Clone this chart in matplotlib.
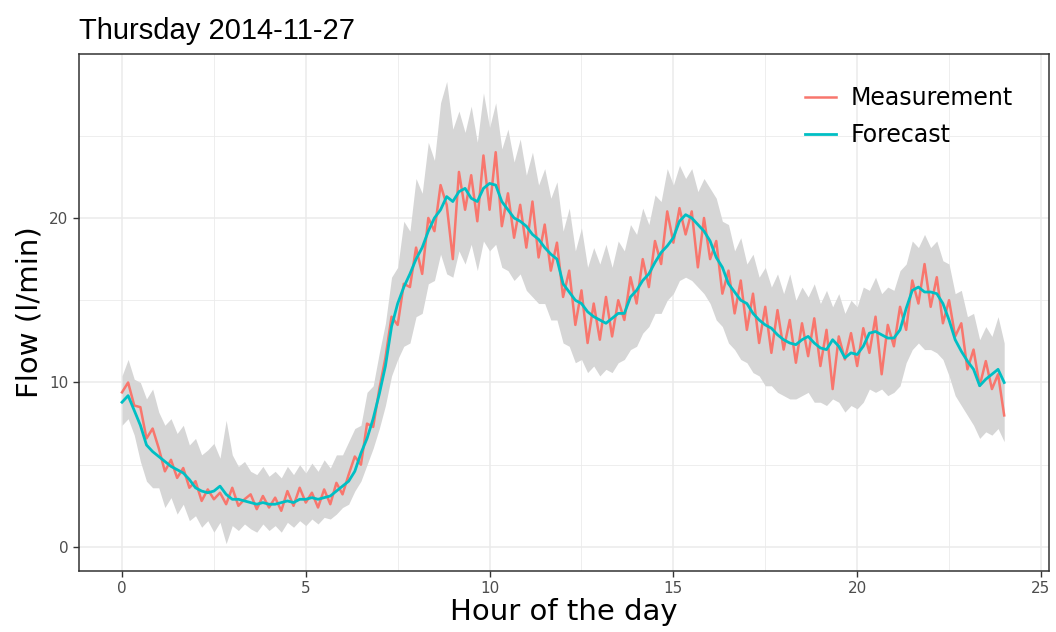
import numpy as np
import matplotlib
matplotlib.use("Agg")
import matplotlib.pyplot as plt
from matplotlib.ticker import MultipleLocator

# Flow readings for Thursday 2014-11-27, sampled every 10 minutes (00:00 .. 24:00)
measurement = [
    9.4, 10.0, 8.6, 8.5, 6.6, 7.2, 6.0, 4.6, 5.3, 4.2, 4.8, 3.6,
    4.0, 2.8, 3.5, 2.9, 3.3, 2.6, 3.6, 2.5, 2.9, 3.2, 2.3, 3.1,
    2.4, 3.0, 2.2, 3.4, 2.5, 3.6, 2.7, 3.3, 2.4, 3.5, 2.6, 3.9,
    3.2, 4.4, 5.5, 5.0, 7.5, 7.3, 9.6, 11.5, 14.0, 13.5, 16.0, 15.8,
    18.2, 16.6, 20.0, 19.2, 22.0, 20.8, 17.5, 22.8, 20.5, 22.6, 19.8, 23.8,
    20.5, 24.0, 19.5, 21.5, 18.8, 20.8, 18.2, 21.0, 17.6, 19.6, 16.8, 18.5,
    15.2, 16.8, 13.5, 15.6, 12.4, 14.8, 12.6, 15.2, 12.8, 15.0, 13.8, 16.4,
    14.8, 17.5, 15.8, 18.6, 17.2, 20.4, 18.5, 20.6, 19.0, 20.4, 17.0, 20.0,
    17.5, 18.6, 15.4, 16.8, 14.2, 16.2, 13.2, 15.4, 12.4, 14.6, 11.8, 14.4,
    12.0, 13.8, 11.2, 13.6, 11.6, 13.9, 11.0, 13.2, 9.6, 12.8, 11.4, 13.0,
    11.0, 13.3, 11.8, 14.0, 10.5, 13.5, 12.2, 14.6, 13.2, 16.2, 14.8, 17.2,
    14.6, 16.4, 13.6, 15.0, 12.8, 13.6, 10.8, 12.0, 9.8, 11.3, 9.6, 10.5,
    8.0,
]

forecast = [
    8.8, 9.2, 8.3, 7.4, 6.2, 5.8, 5.5, 5.2, 4.9, 4.7, 4.5, 4.1,
    3.6, 3.4, 3.3, 3.4, 3.7, 3.2, 2.9, 2.9, 2.8, 2.7, 2.6, 2.7,
    2.6, 2.6, 2.7, 2.8, 2.7, 2.9, 2.9, 3.0, 2.9, 3.0, 3.1, 3.4,
    3.7, 4.0, 4.6, 5.7, 6.6, 7.8, 9.3, 11.0, 13.4, 14.8, 15.8, 16.6,
    17.5, 18.2, 19.2, 20.0, 20.5, 21.3, 21.0, 21.6, 21.8, 21.2, 21.0, 21.8,
    22.1, 22.0, 21.0, 20.5, 20.0, 19.8, 19.5, 19.0, 18.7, 18.2, 17.8, 17.5,
    16.0, 15.5, 15.0, 14.8, 14.3, 14.0, 13.8, 13.6, 13.9, 14.2, 14.2, 15.2,
    15.6, 16.2, 16.6, 17.3, 17.9, 18.3, 18.8, 19.8, 20.2, 20.0, 19.6, 19.2,
    18.6, 17.6, 17.0, 16.0, 15.5, 15.0, 14.8, 14.2, 13.8, 13.5, 13.3, 12.9,
    12.6, 12.4, 12.3, 12.6, 12.8, 12.4, 12.1, 12.0, 12.6, 12.2, 11.5, 11.8,
    11.7, 12.2, 13.0, 13.1, 12.9, 12.7, 12.7, 13.2, 14.5, 15.6, 15.8, 15.5,
    15.5, 15.4, 14.8, 13.8, 12.6, 11.9, 11.3, 10.8, 9.8, 10.2, 10.5, 10.8,
    10.0,
]

# prediction interval around the forecast
lower = [
    7.4, 7.8, 6.8, 5.2, 4.0, 3.6, 3.6, 2.4, 3.0, 2.0, 2.6, 1.6,
    1.9, 1.2, 1.6, 0.9, 1.5, 0.2, 1.3, 1.0, 1.4, 1.1, 0.9, 1.4,
    1.0, 1.3, 0.9, 1.5, 1.2, 1.6, 1.3, 1.7, 1.4, 1.8, 1.7, 2.0,
    2.4, 2.6, 3.4, 4.0, 5.0, 6.0, 7.2, 8.6, 10.4, 11.4, 12.2, 12.4,
    14.0, 14.2, 16.0, 16.2, 17.8, 16.6, 16.4, 18.0, 17.2, 18.4, 16.8, 18.6,
    18.0, 18.4, 17.0, 16.8, 16.2, 16.6, 15.6, 15.2, 14.8, 14.8, 13.8, 13.8,
    12.4, 12.2, 11.2, 11.4, 10.6, 11.0, 10.4, 10.8, 10.6, 11.2, 11.4, 12.0,
    12.2, 13.0, 13.4, 14.2, 14.2, 15.0, 15.4, 16.2, 16.4, 16.2, 15.8, 15.4,
    14.8, 13.8, 13.4, 12.4, 12.0, 11.4, 11.2, 10.6, 10.4, 9.8, 9.8, 9.4,
    9.2, 9.0, 9.0, 9.2, 9.4, 8.8, 8.8, 8.6, 9.0, 8.8, 8.2, 8.6,
    8.4, 8.8, 9.6, 9.4, 9.6, 9.2, 9.4, 9.8, 11.2, 12.0, 12.4, 12.0,
    12.0, 11.8, 11.4, 10.4, 9.2, 8.6, 8.0, 7.4, 6.6, 7.0, 6.8, 7.2,
    6.4,
]

upper = [
    10.4, 11.4, 10.2, 10.0, 9.0, 9.6, 8.2, 7.4, 7.8, 6.9, 7.4, 6.2,
    6.6, 5.6, 5.9, 6.3, 5.4, 7.7, 5.6, 4.9, 5.2, 4.6, 4.4, 4.9,
    4.3, 4.6, 4.2, 4.9, 4.4, 5.0, 4.5, 5.1, 4.6, 5.3, 4.8, 5.6,
    5.6, 6.4, 7.2, 7.4, 9.4, 9.8, 11.8, 13.6, 16.4, 17.0, 19.8, 19.2,
    22.4, 21.5, 24.6, 23.5, 27.0, 28.3, 25.4, 26.5, 25.2, 26.8, 24.6, 27.6,
    25.5, 27.0, 24.2, 25.4, 23.4, 24.8, 22.6, 24.0, 22.0, 23.0, 21.2, 22.2,
    19.2, 20.6, 18.0, 19.4, 17.0, 18.2, 17.2, 18.4, 17.0, 18.6, 18.0, 19.6,
    19.0, 20.6, 19.6, 21.4, 21.0, 23.0, 22.0, 23.2, 22.4, 23.0, 21.6, 22.4,
    21.8, 21.2, 19.8, 19.6, 18.0, 18.8, 17.2, 17.8, 16.4, 17.0, 15.8, 16.6,
    15.4, 16.6, 15.0, 15.8, 15.2, 16.0, 14.8, 15.6, 14.6, 15.4, 14.2, 15.0,
    14.6, 15.8, 15.6, 16.4, 15.4, 15.8, 15.6, 16.8, 17.2, 18.6, 18.2, 19.0,
    18.2, 18.6, 17.4, 17.2, 15.4, 15.6, 14.0, 14.2, 12.6, 13.4, 12.8, 14.0,
    12.4,
]

hours = np.arange(len(measurement)) / 6.0

fig = plt.figure(figsize=(10.56, 6.32), dpi=100)
ax = fig.add_axes([0.0748, 0.0965, 0.9186, 0.8181])

ax.fill_between(hours, lower, upper, color="#D6D6D6", lw=0, zorder=2)
ax.plot(hours, measurement, color="#F8766D", lw=1.8, zorder=3, label="Measurement")
ax.plot(hours, forecast, color="#00BFC4", lw=2.0, zorder=4, label="Forecast")

ax.set_xlim(-1.17, 25.22)
ax.set_ylim(-1.46, 29.97)
ax.xaxis.set_major_locator(MultipleLocator(5))
ax.xaxis.set_minor_locator(MultipleLocator(2.5))
ax.yaxis.set_major_locator(MultipleLocator(10))
ax.yaxis.set_minor_locator(MultipleLocator(5))

# theme_bw style grid and frame
ax.grid(which="major", color="#EBEBEB", lw=1.1, zorder=0)
ax.grid(which="minor", color="#EBEBEB", lw=0.6, zorder=0)
ax.set_axisbelow(True)
for sp in ax.spines.values():
    sp.set_color("#333333")
    sp.set_linewidth(1.1)
ax.tick_params(which="major", length=4, width=1.0, color="#333333",
               labelcolor="#4D4D4D", labelsize=11)
ax.tick_params(which="minor", length=0)

ax.set_xlabel("Hour of the day", fontsize=21, labelpad=1)
ax.set_ylabel("Flow (l/min)", fontsize=21, labelpad=4)
ax.set_title("Thursday 2014-11-27", loc="left", fontsize=21,
             family="Liberation Sans", pad=11)

ax.legend(loc="upper right", bbox_to_anchor=(0.985, 0.979), frameon=False,
          fontsize=17, handlelength=1.3, handletextpad=0.65, labelspacing=0.55)

fig.savefig("out.png", dpi=100)
